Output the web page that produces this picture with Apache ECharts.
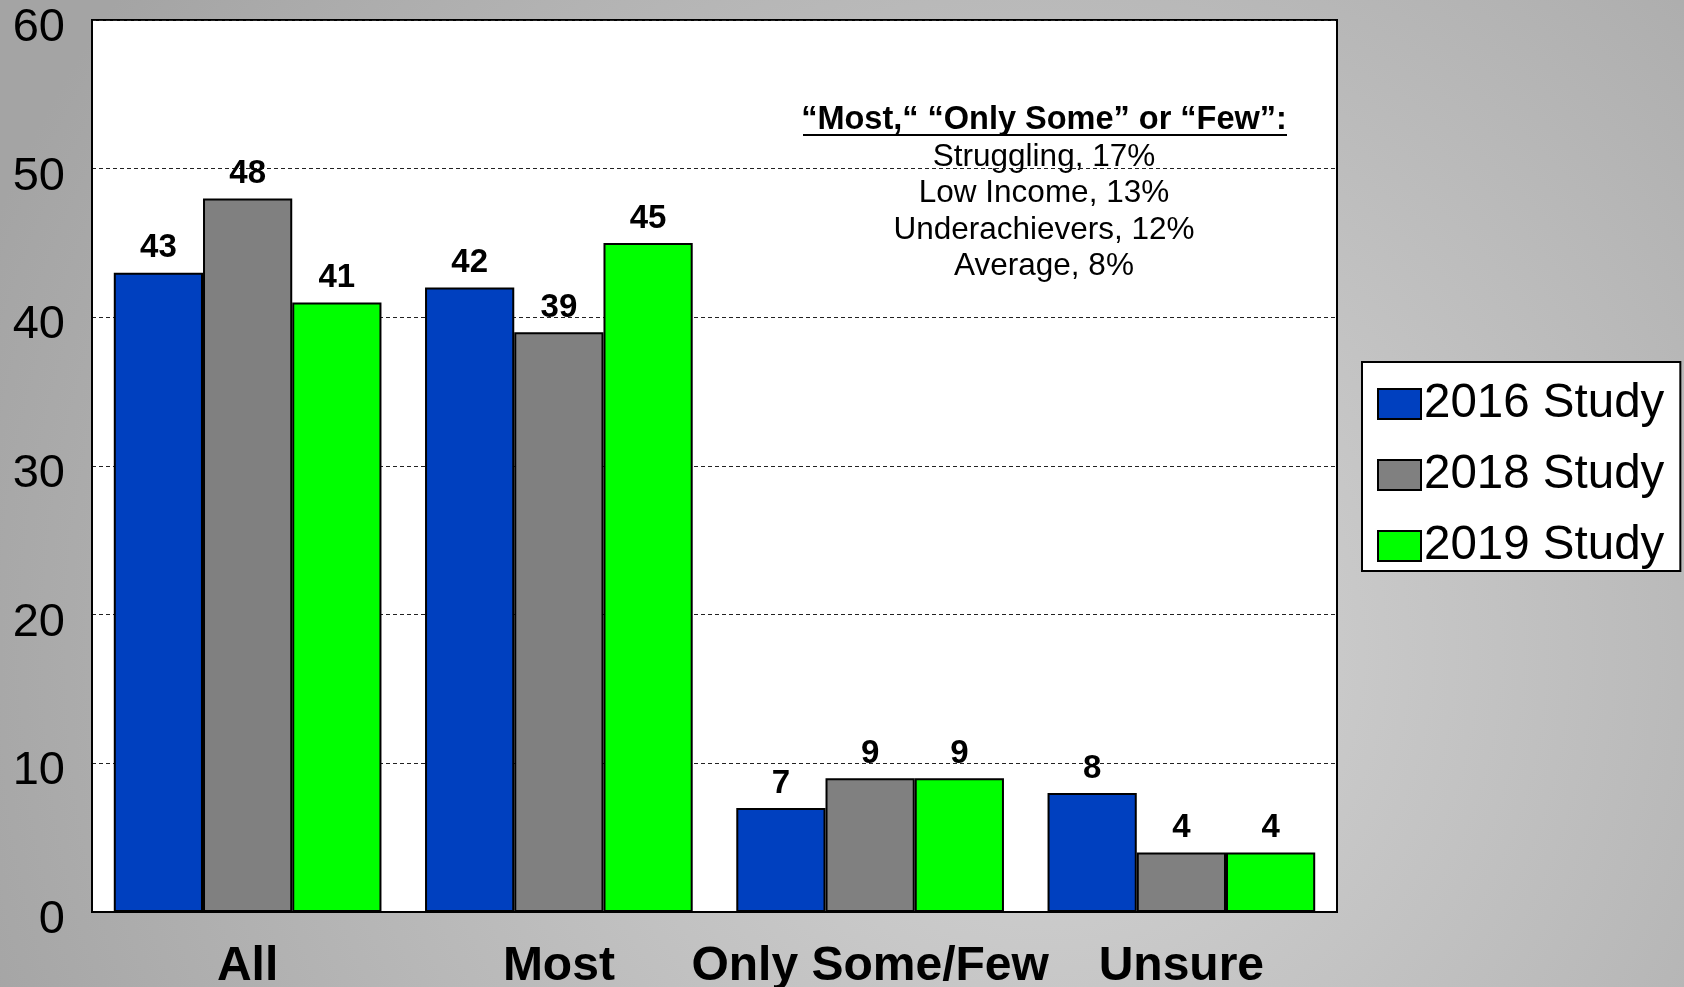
<!DOCTYPE html>
<html>
<head>
<meta charset="utf-8">
<script src="https://cdn.jsdelivr.net/npm/echarts@6/dist/echarts.min.js"></script>
<style>
html,body{margin:0;padding:0;width:1684px;height:987px;overflow:hidden;}
#chart{width:1684px;height:987px;}
</style>
</head>
<body>
<div id="chart"></div>
<script>
const categories = ['All', 'Most', 'Only Some/Few', 'Unsure'];
const seriesNames = ['2016 Study', '2018 Study', '2019 Study'];
const values2016 = [43, 42, 7, 8];
const values2018 = [48, 39, 9, 4];
const values2019 = [41, 45, 9, 4];
const yTicks = [0, 10, 20, 30, 40, 50, 60];
const noteTitle = '\u201CMost,\u201C \u201COnly Some\u201D or \u201CFew\u201D:';
const noteLines = ['Struggling, 17%', 'Low Income, 13%', 'Underachievers, 12%', 'Average, 8%'];

const colors = ['#0040bf', '#808080', '#00ff00'];
const FONT = '"Liberation Sans", Arial, sans-serif';

const chart = echarts.init(document.getElementById('chart'));
const allValues = [values2016, values2018, values2019];

const series = seriesNames.map((name, i) => ({
  name: name,
  type: 'bar',
  data: allValues[i],
  barGap: '0%',
  barCategoryGap: '14%',
  itemStyle: { color: colors[i], borderColor: '#000', borderWidth: 2 },
  label: {
    show: true, position: 'top', distance: 8,
    color: '#000', fontWeight: 'bold', fontSize: 33, fontFamily: FONT
  },
  emphasis: { disabled: true }
}));

const noteX = 1044;
chart.setOption({
  animation: false,
  backgroundColor: {
    type: 'radial', x: 0.62, y: 0.66, r: 1.15,
    colorStops: [{ offset: 0, color: '#d6d6d6' }, { offset: 1, color: '#a4a4a4' }]
  },
  grid: {
    left: 92, right: 347, top: 20, bottom: 75,
    containLabel: false, outerBoundsMode: 'none',
    show: true, backgroundColor: '#fff', borderColor: '#000', borderWidth: 2
  },
  legend: {
    orient: 'vertical', left: 1362, top: 362,
    padding: [18, 16, 1, 15],
    backgroundColor: '#fff', borderColor: '#000', borderWidth: 2,
    icon: 'rect',
    itemWidth: 43, itemHeight: 30, itemGap: 23,
    textStyle: { fontSize: 47.5, fontFamily: FONT, color: '#000', padding: [0, 0, 0, -2] },
    data: seriesNames
  },
  xAxis: {
    type: 'category', data: categories,
    axisLine: { show: true, lineStyle: { color: '#000', width: 2 } },
    axisTick: { show: false },
    axisLabel: { interval: 0, margin: 31, fontSize: 48, fontWeight: 'bold', color: '#000', fontFamily: FONT }
  },
  yAxis: {
    type: 'value', min: yTicks[0], max: yTicks[yTicks.length - 1], interval: 10,
    axisLine: { show: true, lineStyle: { color: '#000', width: 2 } },
    axisTick: { show: false },
    axisLabel: {
      margin: 27, color: '#000', fontFamily: FONT, fontSize: 47,
      formatter: '{a|{value}}',
      rich: { a: { fontSize: 47, fontFamily: FONT, color: '#000', padding: [16, 0, 0, 0] } }
    },
    splitLine: { show: true, lineStyle: { color: '#222', width: 1, type: [4, 3] } }
  },
  graphic: [
    {
      type: 'text', x: noteX, y: 104,
      style: { text: noteTitle, font: 'bold 32.5px ' + FONT, fill: '#000', textAlign: 'center', textVerticalAlign: 'top' }
    },
    {
      type: 'line', shape: { x1: 803, y1: 135, x2: 1287, y2: 135 },
      style: { stroke: '#000', lineWidth: 2 }
    },
    {
      type: 'text', x: noteX, y: 139,
      style: { text: noteLines.join('\n'), font: '31.5px ' + FONT, lineHeight: 36.5, fill: '#000', textAlign: 'center', textVerticalAlign: 'top' }
    }
  ],
  series: series
});
</script>
</body>
</html>
